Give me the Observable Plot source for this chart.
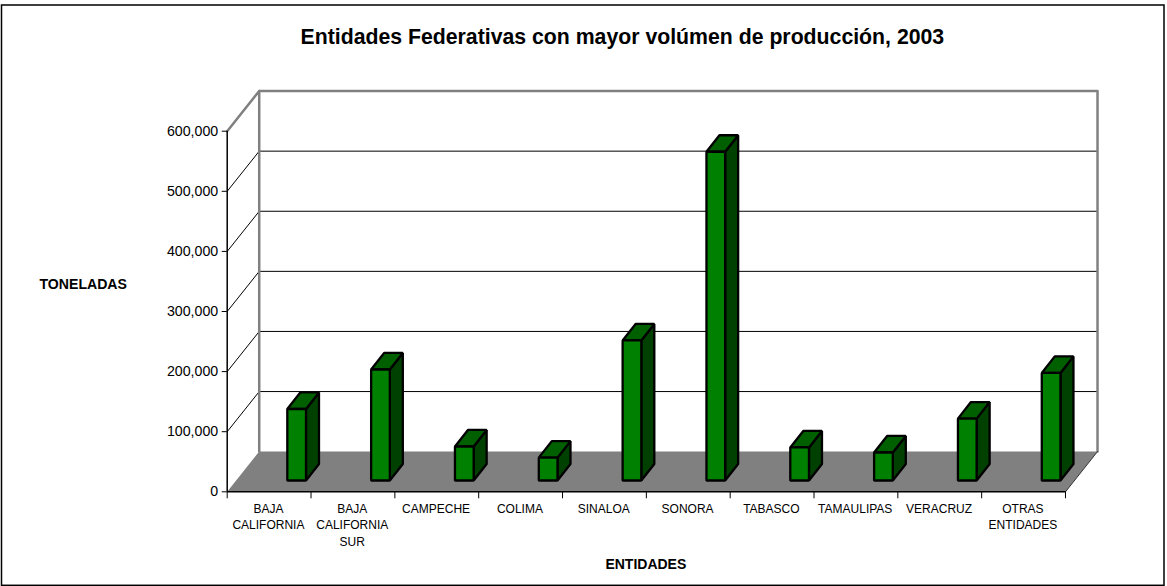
<!DOCTYPE html>
<html>
<head>
<meta charset="utf-8">
<script src="https://cdn.jsdelivr.net/npm/d3@7"></script>
<script src="https://cdn.jsdelivr.net/npm/@observablehq/plot@0.6"></script>
<style>
  html, body { margin: 0; padding: 0; background: #fff; }
  svg { display: block; }
</style>
</head>
<body>
<div id="chart"></div>
<script>
const categories = ["BAJA\nCALIFORNIA", "BAJA\nCALIFORNIA\nSUR", "CAMPECHE", "COLIMA", "SINALOA", "SONORA", "TABASCO", "TAMAULIPAS", "VERACRUZ", "OTRAS\nENTIDADES"];
const values = [119000, 184700, 56600, 38000, 233000, 547000, 55000, 46600, 103000, 179000];
const yTicks = [0, 100000, 200000, 300000, 400000, 500000, 600000];
const gridValues = [100000, 200000, 300000, 400000, 500000];
const titleText = "Entidades Federativas con mayor volúmen de producción, 2003";
const yTitle = "TONELADAS";
const xTitle = "ENTIDADES";

// Oblique projection, expressed in scale units
const wallDX = 0.382, wallDY = 67000;
const barDX = 0.155, barDY = 27500, barBase = 18800;
const barLeft = 0.717, barRight = 0.94;
const n = categories.length, yMax = 600000;
const font = "'Liberation Sans', Arial, sans-serif";

const pts = (id, list) => list.map(([x, y]) => ({id, x, y}));

const floorFace = pts("floor", [[0, 0], [wallDX, wallDY], [n + wallDX, wallDY], [n, 0]]);
const wallOutline = pts("wall1", [[0, yMax], [wallDX, yMax + wallDY], [n + wallDX, yMax + wallDY], [n + wallDX, wallDY]])
  .concat(pts("wall2", [[wallDX, yMax + wallDY], [wallDX, wallDY]]));
const floorEdge = pts("edge", [[n + wallDX, wallDY], [n, 0]]);
const gridLines = gridValues.flatMap(v => pts("g" + v, [[0, v], [wallDX, v + wallDY - 200], [n + wallDX, v + wallDY - 200]]));

const frontFaces = [], sideFaces = [], topFaces = [];
values.forEach((v, i) => {
  const l = i + barLeft, r = i + barRight, b = barBase, t = barBase + v;
  frontFaces.push(...pts("f" + i, [[l, b], [l, t], [r, t], [r, b]]));
  sideFaces.push(...pts("s" + i, [[r, b], [r, t], [r + barDX, t + barDY], [r + barDX, b + barDY]]));
  topFaces.push(...pts("t" + i, [[l, t], [l + barDX, t + barDY], [r + barDX, t + barDY], [r, t]]));
});
const face = (data, fill) => Plot.line(data, {x: "x", y: "y", z: "id", curve: "linear-closed", fill, stroke: "#000", strokeWidth: 2.3, strokeLinejoin: "miter"});

const chart = Plot.plot({
  width: 1167, height: 586,
  marginLeft: 226.7, marginRight: 102, marginTop: 130.7, marginBottom: 94.7,
  style: {fontFamily: font, background: "#fff", color: "#000"},
  x: {domain: [0, n], axis: null},
  y: {domain: [0, yMax], axis: null},
  marks: [
    Plot.frame({stroke: "#000", strokeWidth: 1.5, insetLeft: -225.7, insetRight: -98.5, insetTop: -126.2, insetBottom: -93.5}),
    Plot.line(floorFace, {x: "x", y: "y", z: "id", curve: "linear-closed", fill: "#808080", stroke: "none"}),
    Plot.line(gridLines, {x: "x", y: "y", z: "id", stroke: "#000", strokeWidth: 1}),
    Plot.line(wallOutline, {x: "x", y: "y", z: "id", stroke: "#808080", strokeWidth: 2.5}),
    Plot.line(floorEdge, {x: "x", y: "y", z: "id", stroke: "#333", strokeWidth: 1}),
    face(sideFaces, "#004000"),
    face(topFaces, "#006000"),
    face(frontFaces, "#008000"),
    Plot.ruleX([0], {y1: 0, y2: yMax, stroke: "#000", strokeWidth: 1.5}),
    Plot.ruleY([0], {x1: 0, x2: n, stroke: "#000", strokeWidth: 1.5}),
    Plot.axisY({ticks: yTicks, tickFormat: d3.format(","), tickSize: 5, tickPadding: 4, fontSize: 14.2, label: null, line: false}),
    Plot.axisX({ticks: d3.range(n + 1), tickFormat: () => "", tickSize: 7, label: null}),
    Plot.text(categories, {x: (d, i) => i + 0.5, y: 0, text: d => d, dx: -0.7, dy: 9, lineAnchor: "top", lineHeight: 1.375, fontSize: 12, fill: "#000"}),
    Plot.text([yTitle], {frameAnchor: "left", dx: -187.7, dy: -27, fontSize: 14.1, fontWeight: "bold", fill: "#000"}),
    Plot.text([xTitle], {frameAnchor: "bottom", dx: -0.5, dy: 77, fontSize: 14, fontWeight: "bold", fill: "#000"}),
    Plot.text([titleText], {frameAnchor: "top", dx: -24, dy: -102.7, fontSize: 21.25, fontWeight: "bold", fill: "#000"})
  ]
});
document.getElementById("chart").appendChild(chart);
</script>
</body>
</html>
